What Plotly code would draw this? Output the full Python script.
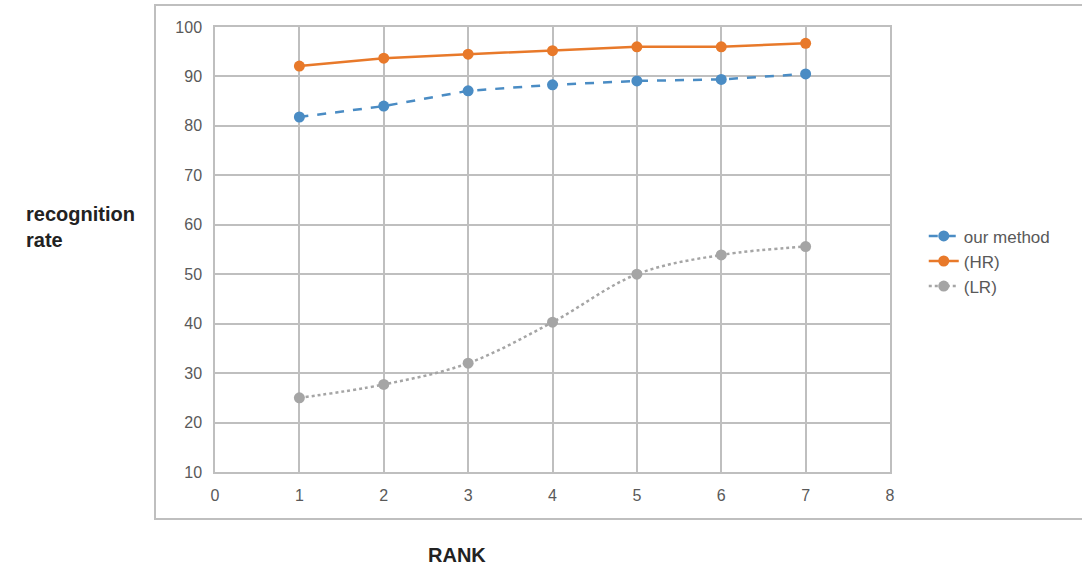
import plotly.graph_objects as go

rank = [1, 2, 3, 4, 5, 6, 7]
our_method = [81.8, 84.0, 87.1, 88.3, 89.1, 89.4, 90.5]
hr = [92.1, 93.7, 94.5, 95.2, 96.0, 96.0, 96.7]
lr = [25.0, 27.7, 32.0, 40.3, 50.0, 53.9, 55.6]

fig = go.Figure()
fig.add_trace(go.Scatter(x=rank, y=our_method, name="our method", mode="lines+markers",
                         line=dict(color="#4A8CC4", width=2.5, dash="dash"),
                         marker=dict(size=11, color="#4A8CC4")))
fig.add_trace(go.Scatter(x=rank, y=hr, name="(HR)", mode="lines+markers",
                         line=dict(color="#E8792A", width=2.5),
                         marker=dict(size=11, color="#E8792A")))
fig.add_trace(go.Scatter(x=rank, y=lr, name="(LR)", mode="lines+markers",
                         line=dict(color="#A5A5A5", width=2.5, dash="dot", shape="spline"),
                         marker=dict(size=11, color="#A5A5A5")))

fig.update_layout(
    width=1082, height=569,
    margin=dict(l=215, r=192, t=27, b=97),
    paper_bgcolor="white", plot_bgcolor="white",
    font=dict(family="Liberation Sans, Arial, sans-serif", size=15, color="#595959"),
    xaxis=dict(range=[0, 8], dtick=1, showgrid=True, gridcolor="#BFBFBF", gridwidth=1.5,
               zeroline=False, showline=True, linecolor="#BFBFBF", linewidth=1.5, mirror=True,
               ticks="", tickfont=dict(size=16, color="#595959"), ticklabelstandoff=8),
    yaxis=dict(range=[10, 100], dtick=10, showgrid=True, gridcolor="#BFBFBF", gridwidth=1.5,
               zeroline=False, showline=True, linecolor="#BFBFBF", linewidth=1.5, mirror=True,
               ticks="", tickfont=dict(size=16, color="#595959"), ticklabelstandoff=8),
    legend=dict(x=1.05, y=0.57, xanchor="left", yanchor="top",
                font=dict(size=17, color="#595959"), bgcolor="rgba(0,0,0,0)"),
    showlegend=True,
)

fig.add_annotation(text="<b>recognition<br>rate</b>", xref="paper", yref="paper",
                   x=-0.283, y=0.61, xanchor="left", yanchor="top", align="left",
                   showarrow=False, font=dict(size=20, color="#222222"))
fig.add_annotation(text="<b>RANK</b>", xref="paper", yref="paper",
                   x=0.359, y=-0.187, xanchor="center", yanchor="middle",
                   showarrow=False, font=dict(size=20, color="#222222"))

# outer chart-area box
fig.add_shape(type="rect", xref="paper", yref="paper",
              x0=(155 - 215) / 675, x1=(1090 - 215) / 675,
              y0=(472 - 519) / 445, y1=(472 - 5) / 445,
              line=dict(color="#BFBFBF", width=2), fillcolor="rgba(0,0,0,0)", layer="below")

fig.write_html("out.html")
